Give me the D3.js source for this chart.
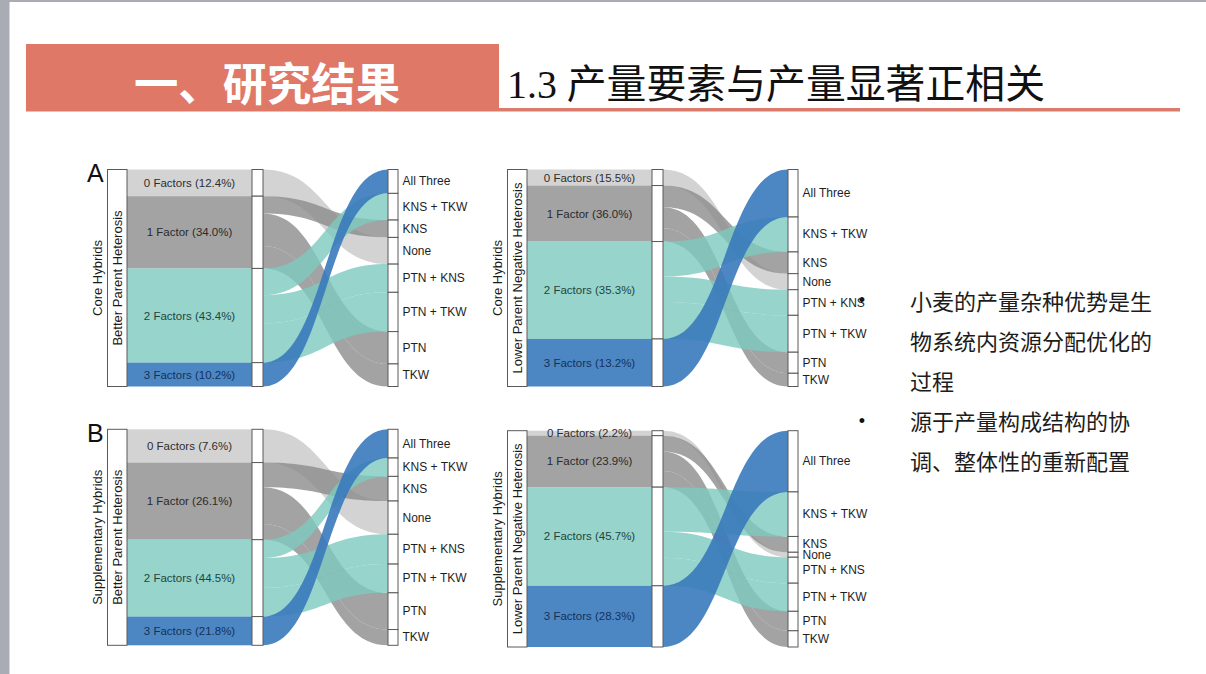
<!DOCTYPE html>
<html><head><meta charset="utf-8">
<script src="https://cdn.jsdelivr.net/npm/d3@7"></script>
<style>html,body{margin:0;padding:0;background:#fff;} svg{display:block}</style>
</head><body>
<svg id="c" width="1206" height="674"></svg>
<script>
// ---------------- data ----------------
const factorCats = ["0 Factors", "1 Factor", "2 Factors", "3 Factors"];
const comboCats = ["All Three", "KNS + TKW", "KNS", "None", "PTN + KNS", "PTN + TKW", "PTN", "TKW"];
const comboFactor = [3, 2, 1, 0, 2, 2, 1, 1];   // number of factors in each combination
const panelLetters = ["A", "", "B", ""];
const hybridGroups = ["Core Hybrids", "Core Hybrids", "Supplementary Hybrids", "Supplementary Hybrids"];
const heterosisTypes = ["Better Parent Heterosis", "Lower Parent Negative Heterosis",
                        "Better Parent Heterosis", "Lower Parent Negative Heterosis"];
// share (%) of each combination as drawn, in comboCats order
const sharesCoreBetter   = [11.0, 12.3, 8.0, 12.3, 13.0, 18.1, 14.9, 10.4];
const sharesCoreLower    = [21.9, 16.1, 10.0, 7.4, 11.8, 17.0, 9.7, 6.1];
const sharesSuppBetter   = [13.3, 8.5, 11.4, 15.4, 13.8, 13.3, 17.0, 7.3];
const sharesSuppLower    = [28.3, 20.6, 7.3, 2.3, 12.0, 13.0, 9.0, 7.5];
// percentages printed in the factor labels
const pctCoreBetter = ["12.4%", "34.0%", "43.4%", "10.2%"];
const pctCoreLower  = ["15.5%", "36.0%", "35.3%", "13.2%"];
const pctSuppBetter = ["7.6%", "26.1%", "44.5%", "21.8%"];
const pctSuppLower  = ["2.2%", "23.9%", "45.7%", "28.3%"];
const headerLeft = "一、研究结果";
const headerTitle = "1.3 产量要素与产量显著正相关";
const bullet1 = ["小麦的产量杂种优势是生", "物系统内资源分配优化的", "过程"];
const bullet2 = ["源于产量构成结构的协", "调、整体性的重新配置"];

const panelShares = [sharesCoreBetter, sharesCoreLower, sharesSuppBetter, sharesSuppLower];
const panelPcts = [pctCoreBetter, pctCoreLower, pctSuppBetter, pctSuppLower];

// ---------------- style / layout ----------------
const flowColors = ["#c8c8c8", "#8c8c8c", "#7cc9bf", "#387abc"];
const flowOpacity = [0.8, 0.8, 0.8, 0.9];
const labelColors = ["#2e2e2e", "#2a2a2a", "#1f4440", "#15315a"];
const panelFrames = [
  {x: 107.5, top: 169.5, bottom: 386.5},
  {x: 507.5, top: 169.5, bottom: 386.5},
  {x: 107.5, top: 429.3, bottom: 645.3},
  {x: 507.5, top: 430.7, bottom: 647.0}
];
const SANS = "'Liberation Sans', Arial, Helvetica, sans-serif";
const CJK = "'Noto Sans CJK SC', sans-serif";

const svg = d3.select("#c");

// slide frame
svg.append("rect").attr("x", 0).attr("y", 0).attr("width", 1206).attr("height", 674).attr("fill", "#ffffff");
svg.append("rect").attr("x", 0).attr("y", 0).attr("width", 1206).attr("height", 2).attr("fill", "#a9acb5");
svg.append("rect").attr("x", 0).attr("y", 0).attr("width", 9.5).attr("height", 674).attr("fill", "#a9acb5");

// header
svg.append("rect").attr("x", 26).attr("y", 44).attr("width", 473).attr("height", 67.5).attr("fill", "#e07868");
svg.append("rect").attr("x", 499).attr("y", 108).attr("width", 681).attr("height", 3.5).attr("fill", "#d97b6d");
svg.append("text").attr("x", 134).attr("y", 101)
  .attr("font-family", CJK).attr("font-weight", 700).attr("font-size", 45)
  .attr("textLength", 266).attr("lengthAdjust", "spacingAndGlyphs")
  .attr("fill", "#ffffff").text(headerLeft);
svg.append("text").attr("x", 507).attr("y", 98)
  .attr("font-family", "'Liberation Serif', 'Times New Roman', serif").attr("font-size", 40)
  .attr("textLength", 538).attr("lengthAdjust", "spacingAndGlyphs")
  .attr("fill", "#111111")
  .call(t => {
    const parts = headerTitle.split(" ");
    t.append("tspan").text(parts[0] + " ");
    t.append("tspan").attr("font-family", CJK).text(parts.slice(1).join(" "));
  });

// bullet text
function bulletBlock(lines, y0, by) {
  svg.append("text").attr("x", 862).attr("y", by).attr("text-anchor", "middle")
    .attr("font-family", SANS).attr("font-size", 18).attr("fill", "#111").text("•");
  lines.forEach((ln, i) => {
    svg.append("text").attr("x", 910).attr("y", y0 + i * 40)
      .attr("font-family", CJK).attr("font-size", 22).attr("fill", "#1c1c1c").text(ln);
  });
}
bulletBlock(bullet1, 310, 306);
bulletBlock(bullet2, 430, 427);

// ---------------- alluvial panels ----------------
function flowPath(x0, x1, s0, s1, t0, t1) {
  const p = d3.path();
  const xm = (x0 + x1) / 2;
  p.moveTo(x0, s0);
  p.bezierCurveTo(xm, s0, xm, t0, x1, t0);
  p.lineTo(x1, t1);
  p.bezierCurveTo(xm, t1, xm, s1, x0, s1);
  p.closePath();
  return p.toString();
}

panelFrames.forEach((fr, pi) => {
  const shares = panelShares[pi];
  const pcts = panelPcts[pi];
  const g = svg.append("g");
  const y = d3.scaleLinear().domain([0, 100]).range([fr.top, fr.bottom]);
  const x = d3.scaleLinear().domain([0, 1]).range([fr.x, fr.x + 290.5]);
  const labX0 = x(0), labX1 = x(19.5 / 290.5);
  const midX0 = x(144.5 / 290.5), midX1 = x(155.5 / 290.5);
  const rtX0 = x(280.5 / 290.5), rtX1 = x(1);

  // combo strata positions
  const comboStart = [];
  let acc = 0;
  shares.forEach((v, i) => { comboStart[i] = acc; acc += v; });
  // factor strata totals
  const factorTotal = factorCats.map((_, f) => d3.sum(shares.filter((_, i) => comboFactor[i] === f)));
  const factorStart = [];
  acc = 0;
  factorTotal.forEach((v, f) => { factorStart[f] = acc; acc += v; });
  // links
  const links = [];
  factorCats.forEach((_, f) => {
    let off = factorStart[f];
    comboCats.forEach((_, c) => {
      if (comboFactor[c] !== f) return;
      links.push({f, c, s0: off, s1: off + shares[c], t0: comboStart[c], t1: comboStart[c] + shares[c]});
      off += shares[c];
    });
  });

  // bars (first axis -> factor axis)
  factorCats.forEach((_, f) => {
    g.append("rect").attr("x", labX1).attr("y", y(factorStart[f]))
      .attr("width", midX0 - labX1 + 0.5).attr("height", y(factorStart[f] + factorTotal[f]) - y(factorStart[f]))
      .attr("fill", flowColors[f]).attr("fill-opacity", flowOpacity[f]);
  });
  // flows (factor axis -> combination axis)
  factorCats.forEach((_, f) => {
    links.filter(l => l.f === f).forEach(l => {
      g.append("path")
        .attr("d", flowPath(midX1, rtX0, y(l.s0), y(l.s1), y(l.t0), y(l.t1)))
        .attr("fill", flowColors[f]).attr("fill-opacity", flowOpacity[f]);
    });
  });

  // strata boxes
  const boxStyle = s => s.attr("fill", "#ffffff").attr("stroke", "#5a5a5a").attr("stroke-width", 1);
  g.append("rect").attr("x", labX0).attr("y", y(0)).attr("width", labX1 - labX0).attr("height", y(100) - y(0)).call(boxStyle);
  factorCats.forEach((_, f) => {
    g.append("rect").attr("x", midX0).attr("y", y(factorStart[f]))
      .attr("width", midX1 - midX0).attr("height", y(factorStart[f] + factorTotal[f]) - y(factorStart[f])).call(boxStyle);
  });
  comboCats.forEach((_, c) => {
    g.append("rect").attr("x", rtX0).attr("y", y(comboStart[c]))
      .attr("width", rtX1 - rtX0).attr("height", y(comboStart[c] + shares[c]) - y(comboStart[c])).call(boxStyle);
  });

  // factor labels
  factorCats.forEach((name, f) => {
    g.append("text").attr("x", (labX1 + midX0) / 2).attr("y", y(factorStart[f] + factorTotal[f] / 2))
      .attr("text-anchor", "middle").attr("dominant-baseline", "central")
      .attr("font-family", SANS).attr("font-size", 11.5).attr("fill", labelColors[f])
      .text(`${name} (${pcts[f]})`);
  });
  // combination labels
  comboCats.forEach((name, c) => {
    g.append("text").attr("x", rtX1 + 4.5).attr("y", y(comboStart[c] + shares[c] / 2))
      .attr("dominant-baseline", "central")
      .attr("font-family", SANS).attr("font-size", 12).attr("fill", "#1e1e1e").text(name);
  });
  // axis titles
  const cy = (y(0) + y(100)) / 2;
  g.append("text").attr("transform", `translate(${(labX0 + labX1) / 2},${cy}) rotate(-90)`)
    .attr("text-anchor", "middle").attr("dominant-baseline", "central")
    .attr("font-family", SANS).attr("font-size", 13).attr("fill", "#1a1a1a").text(heterosisTypes[pi]);
  g.append("text").attr("transform", `translate(${labX0 - 10.5},${cy}) rotate(-90)`)
    .attr("text-anchor", "middle").attr("dominant-baseline", "central")
    .attr("font-family", SANS).attr("font-size", 13).attr("fill", "#1a1a1a").text(hybridGroups[pi]);
  if (panelLetters[pi]) {
    g.append("text").attr("x", labX0 - 20.5).attr("y", y(0) + 12.5)
      .attr("font-family", SANS).attr("font-size", 25).attr("fill", "#111").text(panelLetters[pi]);
  }
});
</script>
</body></html>
